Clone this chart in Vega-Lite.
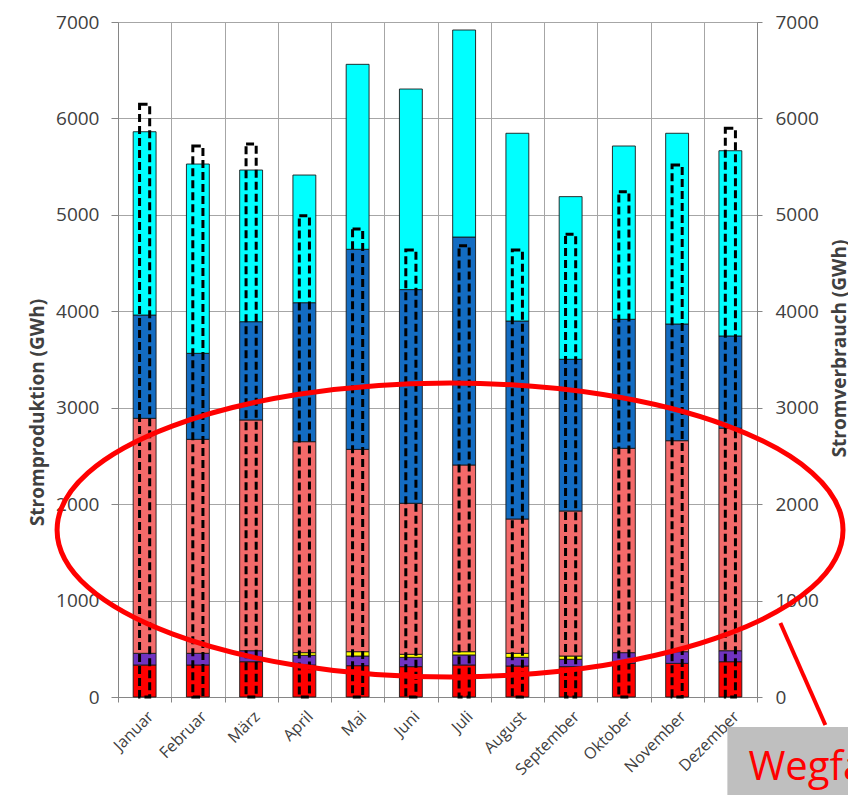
{
  "$schema": "https://vega.github.io/schema/vega-lite/v6.json",
  "width": 639,
  "height": 675,
  "autosize": {"type": "none"},
  "padding": {"left": 118, "top": 22, "right": 91, "bottom": 98},
  "background": "white",
  "config": {
    "font": "Open Sans",
    "view": {"stroke": null},
    "axis": {
      "labelColor": "#404040",
      "titleColor": "#404040",
      "domainColor": "#868686",
      "tickColor": "#868686",
      "gridColor": "#A6A6A6",
      "gridWidth": 1
    }
  },
  "datasets": {
    "produktion": [
      {"Monat": "Januar", "Quelle": "Thermische Kraftwerke", "GWh": 332},
      {"Monat": "Januar", "Quelle": "Übrige", "GWh": 121},
      {"Monat": "Januar", "Quelle": "Kernkraftwerke", "GWh": 2437},
      {"Monat": "Januar", "Quelle": "Laufkraftwerke", "GWh": 1071},
      {"Monat": "Januar", "Quelle": "Speicherkraftwerke", "GWh": 1901},
      {"Monat": "Februar", "Quelle": "Thermische Kraftwerke", "GWh": 332},
      {"Monat": "Februar", "Quelle": "Übrige", "GWh": 121},
      {"Monat": "Februar", "Quelle": "Kernkraftwerke", "GWh": 2219},
      {"Monat": "Februar", "Quelle": "Laufkraftwerke", "GWh": 892},
      {"Monat": "Februar", "Quelle": "Speicherkraftwerke", "GWh": 1963},
      {"Monat": "März", "Quelle": "Thermische Kraftwerke", "GWh": 366},
      {"Monat": "März", "Quelle": "Übrige", "GWh": 114},
      {"Monat": "März", "Quelle": "Kernkraftwerke", "GWh": 2393},
      {"Monat": "März", "Quelle": "Laufkraftwerke", "GWh": 1019},
      {"Monat": "März", "Quelle": "Speicherkraftwerke", "GWh": 1573},
      {"Monat": "April", "Quelle": "Thermische Kraftwerke", "GWh": 332},
      {"Monat": "April", "Quelle": "Übrige", "GWh": 100},
      {"Monat": "April", "Quelle": "Neue Erneuerbare", "GWh": 28},
      {"Monat": "April", "Quelle": "Kernkraftwerke", "GWh": 2188},
      {"Monat": "April", "Quelle": "Laufkraftwerke", "GWh": 1441},
      {"Monat": "April", "Quelle": "Speicherkraftwerke", "GWh": 1324},
      {"Monat": "Mai", "Quelle": "Thermische Kraftwerke", "GWh": 325},
      {"Monat": "Mai", "Quelle": "Übrige", "GWh": 100},
      {"Monat": "Mai", "Quelle": "Neue Erneuerbare", "GWh": 45},
      {"Monat": "Mai", "Quelle": "Kernkraftwerke", "GWh": 2098},
      {"Monat": "Mai", "Quelle": "Laufkraftwerke", "GWh": 2075},
      {"Monat": "Mai", "Quelle": "Speicherkraftwerke", "GWh": 1918},
      {"Monat": "Juni", "Quelle": "Thermische Kraftwerke", "GWh": 315},
      {"Monat": "Juni", "Quelle": "Übrige", "GWh": 96},
      {"Monat": "Juni", "Quelle": "Neue Erneuerbare", "GWh": 32},
      {"Monat": "Juni", "Quelle": "Kernkraftwerke", "GWh": 1566},
      {"Monat": "Juni", "Quelle": "Laufkraftwerke", "GWh": 2216},
      {"Monat": "Juni", "Quelle": "Speicherkraftwerke", "GWh": 2080},
      {"Monat": "Juli", "Quelle": "Thermische Kraftwerke", "GWh": 332},
      {"Monat": "Juli", "Quelle": "Übrige", "GWh": 104},
      {"Monat": "Juli", "Quelle": "Neue Erneuerbare", "GWh": 34},
      {"Monat": "Juli", "Quelle": "Kernkraftwerke", "GWh": 1936},
      {"Monat": "Juli", "Quelle": "Laufkraftwerke", "GWh": 2364},
      {"Monat": "Juli", "Quelle": "Speicherkraftwerke", "GWh": 2147},
      {"Monat": "August", "Quelle": "Thermische Kraftwerke", "GWh": 321},
      {"Monat": "August", "Quelle": "Übrige", "GWh": 90},
      {"Monat": "August", "Quelle": "Neue Erneuerbare", "GWh": 42},
      {"Monat": "August", "Quelle": "Kernkraftwerke", "GWh": 1393},
      {"Monat": "August", "Quelle": "Laufkraftwerke", "GWh": 2053},
      {"Monat": "August", "Quelle": "Speicherkraftwerke", "GWh": 1947},
      {"Monat": "September", "Quelle": "Thermische Kraftwerke", "GWh": 315},
      {"Monat": "September", "Quelle": "Übrige", "GWh": 76},
      {"Monat": "September", "Quelle": "Neue Erneuerbare", "GWh": 34},
      {"Monat": "September", "Quelle": "Kernkraftwerke", "GWh": 1504},
      {"Monat": "September", "Quelle": "Laufkraftwerke", "GWh": 1573},
      {"Monat": "September", "Quelle": "Speicherkraftwerke", "GWh": 1687},
      {"Monat": "Oktober", "Quelle": "Thermische Kraftwerke", "GWh": 349},
      {"Monat": "Oktober", "Quelle": "Übrige", "GWh": 111},
      {"Monat": "Oktober", "Quelle": "Kernkraftwerke", "GWh": 2119},
      {"Monat": "Oktober", "Quelle": "Laufkraftwerke", "GWh": 1338},
      {"Monat": "Oktober", "Quelle": "Speicherkraftwerke", "GWh": 1797},
      {"Monat": "November", "Quelle": "Thermische Kraftwerke", "GWh": 349},
      {"Monat": "November", "Quelle": "Übrige", "GWh": 121},
      {"Monat": "November", "Quelle": "Kernkraftwerke", "GWh": 2188},
      {"Monat": "November", "Quelle": "Laufkraftwerke", "GWh": 1210},
      {"Monat": "November", "Quelle": "Speicherkraftwerke", "GWh": 1978},
      {"Monat": "Dezember", "Quelle": "Thermische Kraftwerke", "GWh": 366},
      {"Monat": "Dezember", "Quelle": "Übrige", "GWh": 114},
      {"Monat": "Dezember", "Quelle": "Kernkraftwerke", "GWh": 2307},
      {"Monat": "Dezember", "Quelle": "Laufkraftwerke", "GWh": 957},
      {"Monat": "Dezember", "Quelle": "Speicherkraftwerke", "GWh": 1921}
    ],
    "verbrauch": [
      {"Monat": "Januar", "GWh": 6146},
      {"Monat": "Februar", "GWh": 5714},
      {"Monat": "März", "GWh": 5735},
      {"Monat": "April", "GWh": 4991},
      {"Monat": "Mai", "GWh": 4853},
      {"Monat": "Juni", "GWh": 4636},
      {"Monat": "Juli", "GWh": 4680},
      {"Monat": "August", "GWh": 4636},
      {"Monat": "September", "GWh": 4798},
      {"Monat": "Oktober", "GWh": 5240},
      {"Monat": "November", "GWh": 5517},
      {"Monat": "Dezember", "GWh": 5897}
    ],
    "hinweis": [
      {"Monat": "Dezember", "Text": "Wegfall"}
    ]
  },
  "layer": [
    {
      "data": {"name": "produktion"},
      "transform": [
        {"calculate": "indexof(['Thermische Kraftwerke', 'Übrige', 'Neue Erneuerbare', 'Kernkraftwerke', 'Laufkraftwerke', 'Speicherkraftwerke'], datum.Quelle)", "as": "Schicht"}
      ],
      "mark": {"type": "bar", "width": {"band": 0.43}, "stroke": "#1a1a1a", "strokeWidth": 0.9},
      "encoding": {
        "x": {
          "field": "Monat",
          "type": "nominal",
          "scale": {
            "domain": ["Januar", "Februar", "März", "April", "Mai", "Juni", "Juli", "August", "September", "Oktober", "November", "Dezember"],
            "paddingInner": 0,
            "paddingOuter": 0
          },
          "axis": {
            "title": null,
            "labelAngle": -45,
            "labelFontSize": 16,
            "labelPadding": 6,
            "tickBand": "extent",
            "tickSize": 5,
            "grid": true
          }
        },
        "y": {
          "field": "GWh",
          "type": "quantitative",
          "stack": "zero",
          "scale": {"domain": [0, 7000], "nice": false},
          "axis": {
            "orient": "left",
            "title": "Stromproduktion (GWh)",
            "values": [0, 1000, 2000, 3000, 4000, 5000, 6000, 7000],
            "format": "d",
            "grid": true,
            "labelFontSize": 19,
            "labelPadding": 12,
            "tickSize": 7,
            "titleFontSize": 19,
            "titleFontWeight": "bold",
            "titleAngle": -90,
            "titleAlign": "center",
            "titleBaseline": "middle",
            "titleX": -81,
            "titleY": 390
          }
        },
        "color": {
          "field": "Quelle",
          "type": "nominal",
          "scale": {
            "domain": ["Thermische Kraftwerke", "Übrige", "Neue Erneuerbare", "Kernkraftwerke", "Laufkraftwerke", "Speicherkraftwerke"],
            "range": ["#FF0000", "#7033C0", "#FFFF00", "#F46A6A", "#136CC2", "#00FFFF"]
          },
          "legend": null
        },
        "order": {"field": "Schicht", "type": "quantitative", "sort": "ascending"}
      }
    },
    {
      "data": {"name": "verbrauch"},
      "mark": {
        "type": "bar",
        "width": {"band": 0.19},
        "fillOpacity": 0,
        "stroke": "#000000",
        "strokeWidth": 3,
        "strokeDash": [8, 4]
      },
      "encoding": {
        "x": {"field": "Monat", "type": "nominal"},
        "y": {
          "field": "GWh",
          "type": "quantitative",
          "scale": {"domain": [0, 7000], "nice": false},
          "axis": {
            "orient": "right",
            "title": "Stromverbrauch (GWh)",
            "values": [0, 1000, 2000, 3000, 4000, 5000, 6000, 7000],
            "format": "d",
            "grid": false,
            "labelFontSize": 19,
            "labelPadding": 13,
            "tickSize": 5,
            "titleFontSize": 19,
            "titleFontWeight": "bold",
            "titleAngle": -90,
            "titleAlign": "center",
            "titleBaseline": "middle",
            "titleX": 82,
            "titleY": 326
          }
        }
      }
    },
    {
      "data": {"name": "hinweis"},
      "mark": {
        "type": "point",
        "filled": false,
        "stroke": "#FF0000",
        "strokeWidth": 5,
        "opacity": 1,
        "size": 617796,
        "shape": "M -0.968 0 C -0.968 -0.2066 -0.5205 -0.374 0.0318 -0.374 C 0.5841 -0.374 1.0318 -0.2066 1.0318 0 C 1.0318 0.2066 0.5841 0.374 0.0318 0.374 C -0.5205 0.374 -0.968 0.2066 -0.968 0 Z"
      },
      "encoding": {
        "y": {"datum": 1732, "type": "quantitative", "scale": {"domain": [0, 7000], "nice": false}, "axis": null}
      }
    },
    {
      "data": {"name": "hinweis"},
      "mark": {"type": "rule", "color": "#FF0000", "strokeWidth": 4, "xOffset": 50, "x2Offset": 95},
      "encoding": {
        "x": {"field": "Monat", "type": "nominal"},
        "x2": {"field": "Monat"},
        "y": {"datum": 767, "type": "quantitative", "scale": {"domain": [0, 7000], "nice": false}, "axis": null},
        "y2": {"datum": -290}
      }
    },
    {
      "data": {"name": "hinweis"},
      "mark": {"type": "bar", "color": "#BFBFBF", "width": 130, "xOffset": 62},
      "encoding": {
        "x": {"field": "Monat", "type": "nominal"},
        "y": {"datum": -311, "type": "quantitative", "scale": {"domain": [0, 7000], "nice": false}, "axis": null},
        "y2": {"datum": -1100}
      }
    },
    {
      "data": {"name": "hinweis"},
      "mark": {"type": "text", "color": "#FF0000", "fontSize": 40, "align": "left", "baseline": "alphabetic", "dx": 18},
      "encoding": {
        "x": {"field": "Monat", "type": "nominal"},
        "y": {"datum": -861, "type": "quantitative", "scale": {"domain": [0, 7000], "nice": false}, "axis": null},
        "text": {"field": "Text"}
      }
    }
  ],
  "resolve": {"scale": {"y": "independent"}}
}
